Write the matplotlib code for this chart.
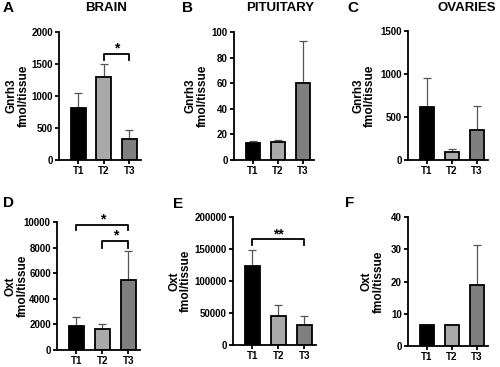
import numpy as np
import matplotlib
matplotlib.use("Agg")
import matplotlib.pyplot as plt

plt.rcParams['font.family'] = ['Liberation Sans', 'DejaVu Sans']
plt.rcParams['font.weight'] = 'bold'

groups = ['T1', 'T2', 'T3']
bar_colors = ['#000000', '#a9a9a9', '#7f7f7f']

# means and upper SEM of each panel
brain_gnrh3 = [820, 1290, 330]
brain_gnrh3_err = [230, 210, 140]
pit_gnrh3 = [13, 14, 60]
pit_gnrh3_err = [2, 2, 33]
ova_gnrh3 = [620, 95, 345]
ova_gnrh3_err = [335, 30, 285]
brain_oxt = [1850, 1650, 5450]
brain_oxt_err = [700, 350, 2250]
pit_oxt = [124000, 46000, 31000]
pit_oxt_err = [24000, 17000, 15000]
ova_oxt = [6.5, 6.5, 18.8]
ova_oxt_err = [0, 0, 12.5]

W, H = 500, 367
fig = plt.figure(figsize=(5, 3.67), dpi=100)


def make_ax(left, top, width, bottom):
    return fig.add_axes([left / W, 1 - bottom / H, width / W, (bottom - top) / H])


def panel(ax, vals, errs, ymax, ystep, ylabel, label_x, brackets=()):
    x = np.arange(3)
    ax.bar(x, vals, width=0.58, color=bar_colors, edgecolor='black', linewidth=1.3, zorder=2)
    ax.errorbar(x, vals, yerr=[np.zeros(3), errs], fmt='none', ecolor='#555555',
                elinewidth=0.9, capsize=3, capthick=0.9, zorder=1)
    ax.set_xlim(-0.75, 2.45)
    ax.set_ylim(0, ymax)
    ax.set_yticks(np.arange(0, ymax + 1e-9, ystep))
    ax.set_xticks(x)
    ax.set_xticklabels(groups)
    ax.spines['top'].set_visible(False)
    ax.spines['right'].set_visible(False)
    ax.spines['left'].set_linewidth(1.3)
    ax.spines['bottom'].set_linewidth(1.3)
    ax.tick_params(axis='both', labelsize=7, width=1.3, length=3, pad=1.5)
    for t in ax.get_xticklabels() + ax.get_yticklabels():
        t.set_fontweight('bold')
    # y label placed at its measured centre
    bb = ax.get_position()
    fig.text(label_x / W, bb.y0 + bb.height / 2, ylabel, rotation=90, fontsize=8.5,
             fontweight='bold', ha='center', va='center', linespacing=1.0,
             multialignment='center')
    for x1, x2, y, leg, txt in brackets:
        ax.plot([x1, x1, x2, x2], [y - leg, y, y, y - leg], color='black', lw=1.3,
                clip_on=False)
        ax.text((x1 + x2) / 2, y + ymax * 0.01, txt, ha='center', va='baseline',
                fontsize=10, fontweight='bold')


axA = make_ax(59, 32, 82, 160)
panel(axA, brain_gnrh3, brain_gnrh3_err, 2000, 500, 'Gnrh3\nfmol/tissue', 18,
      [(1, 2, 1660, 90, '*')])
axB = make_ax(234, 32, 80, 160)
panel(axB, pit_gnrh3, pit_gnrh3_err, 100, 20, 'Gnrh3\nfmol/tissue', 197)
axC = make_ax(408, 31, 80, 160)
panel(axC, ova_gnrh3, ova_gnrh3_err, 1500, 500, 'Gnrh3\nfmol/tissue', 364)
axD = make_ax(57, 222, 83, 350)
panel(axD, brain_oxt, brain_oxt_err, 10000, 2000, 'Oxt\nfmol/tissue', 17,
      [(0, 2, 9800, 400, '*'), (1, 2, 8500, 500, '*')])
axE = make_ax(233, 217, 83, 345)
panel(axE, pit_oxt, pit_oxt_err, 200000, 50000, 'Oxt\nfmol/tissue', 180,
      [(0, 2, 165000, 9000, '**')])
axF = make_ax(408, 217, 80, 346)
panel(axF, ova_oxt, ova_oxt_err, 40, 10, 'Oxt\nfmol/tissue', 373)

# panel letters and titles
for letter, px, py in [('A', 3, 8), ('B', 182, 8), ('C', 347, 8),
                       ('D', 3, 203), ('E', 173, 204), ('F', 345, 203)]:
    fig.text(px / W, 1 - py / H, letter, fontsize=11, fontweight='bold', va='center')
for title, px in [('BRAIN', 106), ('PITUITARY', 280), ('OVARIES', 467)]:
    fig.text(px / W, 1 - 8 / H, title, fontsize=9.5, fontweight='bold',
             ha='center', va='center')

fig.savefig('out.png', dpi=100)
